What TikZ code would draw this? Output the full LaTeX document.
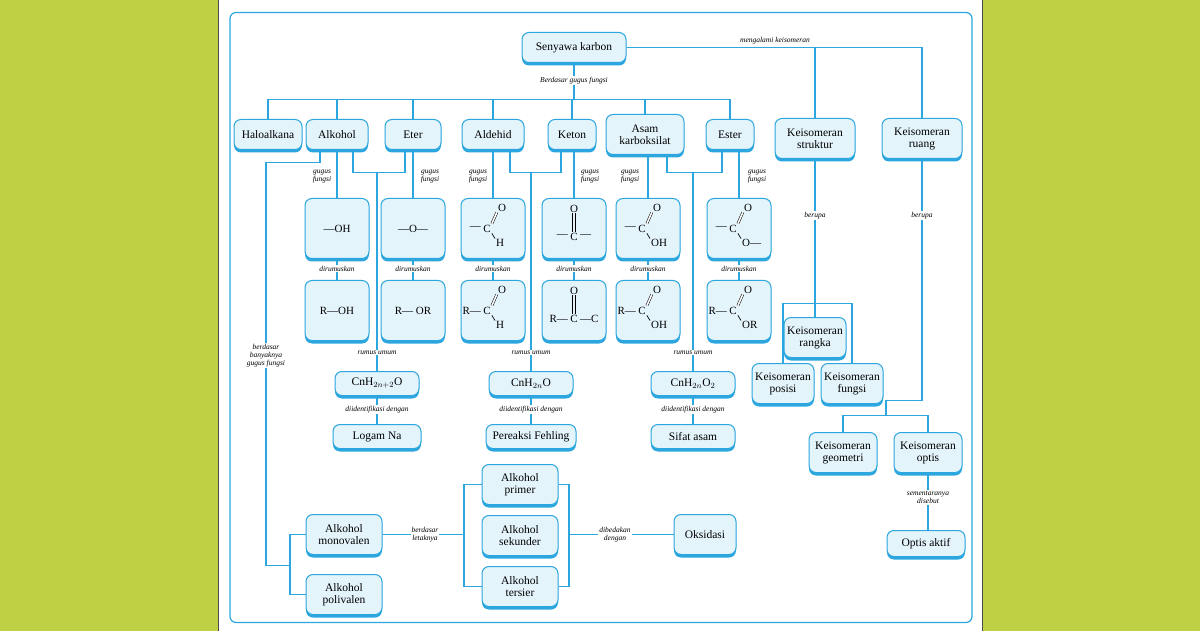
\documentclass[tikz,border=0pt]{standalone}
\usepackage{fontspec}
\setmainfont{Liberation Serif}
\usetikzlibrary{positioning,calc,shadows}
\definecolor{cblue}{HTML}{2BA6DE}
\definecolor{cfill}{HTML}{E4F4FB}
\definecolor{cgreen}{HTML}{BFD044}

% carbonyl group: C with =O up-right and a group down-right
\newcommand\acyl[3]{%
  \node[chem] (#1c) at ($(#1)+(-6,0)$) {C};
  \node[chem, anchor=east] at (#1c.west) {#2};
  \node[chem] (#1o) at ($(#1c)+(15,-21)$) {O};
  \node[chem, anchor=north west] (#1h) at ($(#1c)+(8,10)$) {#3};
  \draw[dbl] (#1c.north east) -- (#1o.south west);
  \draw[bond] (#1c.south east) -- (#1h.north west);}
% keto group: O above C
\newcommand\keto[3]{%
  \node[chem] (#1c) at ($(#1)+(0,8)$) {C};
  \node[chem, anchor=east] at (#1c.west) {#2};
  \node[chem, anchor=west] at (#1c.east) {#3};
  \node[chem] (#1o) at ($(#1c)+(0,-28)$) {O};
  \draw[bond] ($(#1c.north)+(-1.3,0)$) -- ($(#1o.south)+(-1.3,0)$)
              ($(#1c.north)+(1.3,0)$) -- ($(#1o.south)+(1.3,0)$);}

\begin{document}
\begin{tikzpicture}[x=1pt, y=-1pt,
    box/.style={draw=cblue, fill=cfill, line width=1pt, rounded corners=7pt,
      align=center, inner sep=1pt, font=\fontsize{11.5}{12}\selectfont,
      drop shadow={shadow xshift=0pt, shadow yshift=-3pt, fill=cblue, opacity=1}},
    link/.style={draw=cblue, line width=1.5pt},
    lbl/.style={font=\itshape\fontsize{7.5}{8}\selectfont, align=center, inner sep=1pt},
    wlbl/.style={lbl, fill=white},
    chem/.style={font=\fontsize{11}{12}\selectfont, inner sep=1pt},
    bond/.style={line width=0.7pt},
    dbl/.style={double, double distance=1.6pt, line width=0.5pt}]

  % background and frame
  \fill[cgreen] (0,0) rectangle (1200,630);
  \fill[white] (218,0) rectangle (982,630);
  \draw[black!70, line width=1pt] (218,0) -- (218,630) (982,0) -- (982,630);
  \draw[cblue, line width=1.2pt, rounded corners=6pt] (230,12) rectangle (972,622);

  % top
  \node[box, minimum width=104, minimum height=30] (karbon) at (574,47) {Senyawa karbon};

  % groups
  \node[box, minimum width=68, minimum height=30] (halo) at (268,134) {Haloalkana};
  \node[box, minimum width=62, minimum height=30] (alkohol) at (337,134) {Alkohol};
  \node[box, minimum width=56, minimum height=30] (eter) at (413,134) {Eter};
  \node[box, minimum width=62, minimum height=30] (aldehid) at (493,134) {Aldehid};
  \node[box, minimum width=48, minimum height=30] (keton) at (572,134) {Keton};
  \node[box, minimum width=78, minimum height=40] (asam) at (645,134) {Asam\\karboksilat};
  \node[box, minimum width=48, minimum height=30] (ester) at (730,134) {Ester};
  \node[box, minimum width=80, minimum height=40] (struktur) at (815,138) {Keisomeran\\struktur};
  \node[box, minimum width=80, minimum height=40] (ruang) at (922,138) {Keisomeran\\ruang};

  % functional groups
  \foreach \n/\x in {fa/337, fe/413, fal/493, fk/574, fac/648, fes/739}
    \node[box, minimum width=64, minimum height=60] (\n) at (\x,228) {};
  \foreach \n/\x in {ra/337, re/413, ral/493, rk/574, rac/648, res/739}
    \node[box, minimum width=64, minimum height=60] (\n) at (\x,310) {};
  \node[chem] at (fa) {---OH};
  \node[chem] at (fe) {---O---};
  \node[chem] at (ra) {R---OH};
  \node[chem] at (re) {R--- OR};
  \acyl{fal}{---}{H}
  \acyl{ral}{R---}{H}
  \keto{fk}{---}{---}
  \keto{rk}{R---}{---C}
  \acyl{fac}{---}{OH}
  \acyl{rac}{R---}{OH}
  \acyl{fes}{---}{O---}
  \acyl{res}{R---}{OR}

  % general formulas
  \node[box, minimum width=84, minimum height=24] (cn1) at (377,383) {CnH$_{2n+2}$O};
  \node[box, minimum width=84, minimum height=24] (cn2) at (531,383) {CnH$_{2n}$O};
  \node[box, minimum width=84, minimum height=24] (cn3) at (693,383) {CnH$_{2n}$O$_2$};
  \node[box, minimum width=88, minimum height=24] (na) at (377,436) {Logam Na};
  \node[box, minimum width=90, minimum height=24] (fehling) at (531,436) {Pereaksi Fehling};
  \node[box, minimum width=84, minimum height=24] (sifat) at (693,436) {Sifat asam};

  % alcohol kinds
  \node[box, minimum width=76, minimum height=40] (mono) at (344,534) {Alkohol\\monovalen};
  \node[box, minimum width=76, minimum height=40] (poli) at (344,594) {Alkohol\\polivalen};
  \node[box, minimum width=76, minimum height=40] (primer) at (520,484) {Alkohol\\primer};
  \node[box, minimum width=76, minimum height=40] (sekunder) at (520,535) {Alkohol\\sekunder};
  \node[box, minimum width=76, minimum height=40] (tersier) at (520,586) {Alkohol\\tersier};
  \node[box, minimum width=62, minimum height=40] (oks) at (705,534) {Oksidasi};

  % isomers
  \node[box, minimum width=62, minimum height=40] (rangka) at (815,337) {Keisomeran\\rangka};
  \node[box, minimum width=62, minimum height=40] (posisi) at (783,383) {Keisomeran\\posisi};
  \node[box, minimum width=62, minimum height=40] (fungsi) at (852,383) {Keisomeran\\fungsi};
  \node[box, minimum width=68, minimum height=40] (geo) at (843,452) {Keisomeran\\geometri};
  \node[box, minimum width=68, minimum height=40] (optis) at (928,452) {Keisomeran\\optis};
  \node[box, minimum width=78, minimum height=26] (aktif) at (926,543) {Optis aktif};

  % junctions
  \coordinate (bus) at (574,99);
  \coordinate (j1) at (377,172);
  \coordinate (j2) at (531,172);
  \coordinate (j3) at (693,172);
  \coordinate (kiri) at (266,162);
  \coordinate (br1) at (290,565);
  \coordinate (br2) at (464,534);
  \coordinate (br3) at (569,534);
  \coordinate (s1) at (815,303);
  \coordinate (r1) at (886,415);

  % connectors
  \draw[link] (karbon.east) -| (ruang.north);
  \draw[link] (struktur.north) -- (struktur.north |- karbon.east);
  \draw[link] (karbon.south) -- (bus);
  \draw[link] (halo.north) |- (bus) -| (ester.north);
  \foreach \n in {alkohol, eter, aldehid, keton, asam}
    \draw[link] (\n.north) -- (\n.north |- bus);
  \foreach \g/\f/\r in {alkohol/fa/ra, eter/fe/re, aldehid/fal/ral, keton/fk/rk, asam/fac/rac, ester/fes/res}
    \draw[link] (\g.south -| \f) -- (\f.north) (\f.south) -- (\r.north);
  \draw[link] ($(alkohol.south)+(16,0)$) |- (j1) -| ($(eter.south)+(-8,0)$);
  \draw[link] ($(aldehid.south)+(17,0)$) |- (j2) -| ($(keton.south)+(-11,0)$);
  \draw[link] ($(asam.south)+(22,0)$) |- (j3) -| ($(ester.south)+(-8,0)$);
  \foreach \j/\c/\b in {j1/cn1/na, j2/cn2/fehling, j3/cn3/sifat}
    \draw[link] (\j) -- (\c.north) (\c.south) -- (\b.north);
  \draw[link] ($(alkohol.south)+(-17,0)$) |- (kiri) -- (kiri |- br1) -- (br1);
  \draw[link] (mono.west) -| (br1) |- (poli.west);
  \draw[link] (mono.east) -- (br2);
  \draw[link] (primer.west) -| (br2) |- (tersier.west);
  \draw[link] (primer.east) -| (br3) |- (tersier.east);
  \draw[link] (br3) -- (oks.west);
  \draw[link] (struktur.south) -- (rangka.north);
  \draw[link] (posisi.north) |- (s1) -| (fungsi.north);
  \draw[link] (ruang.south) |- (r1 |- 0,400) -- (r1);
  \draw[link] (geo.north) |- (r1) -| (optis.north);
  \draw[link] (optis.south) -- (aktif.north -| optis.south);

  % labels
  \node[lbl] at (775,40) {mengalami keisomeran};
  \node[wlbl] at (574,80) {Berdasar gugus fungsi};
  \foreach \x in {322, 478, 630}
    \node[lbl] at (\x,176) {gugus\\fungsi};
  \foreach \x in {430, 590, 757}
    \node[lbl] at (\x,176) {gugus\\fungsi};
  \foreach \x in {337, 413, 493, 574, 648, 739}
    \node[wlbl] at (\x,268) {dirumuskan};
  \foreach \x in {377, 531, 693} {
    \node[wlbl] at (\x,352) {rumus umum};
    \node[wlbl] at (\x,409) {diidentifikasi dengan};
  }
  \node[wlbl] at (266,355) {berdasar\\banyaknya\\gugus fungsi};
  \node[wlbl] at (425,534) {berdasar\\letaknya};
  \node[wlbl] at (615,534) {dibedakan\\dengan};
  \node[wlbl] at (815,215) {berupa};
  \node[wlbl] at (922,215) {berupa};
  \node[wlbl] at (928,497) {sementaranya\\disebut};
\end{tikzpicture}
\end{document}
